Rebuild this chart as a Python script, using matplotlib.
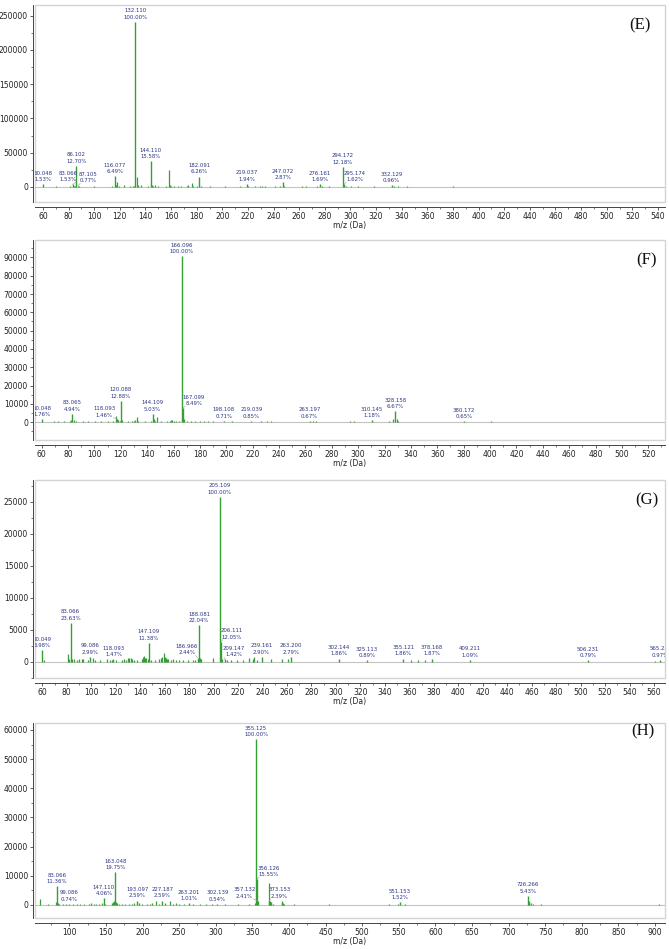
import matplotlib.pyplot as plt
from matplotlib.ticker import MultipleLocator, ScalarFormatter


plt.rcParams['font.family'] = 'DejaVu Sans'

PEAK = '#34a034'
LABEL = '#2c3584'
AXIS = '#444444'
BOX = '#d4d4d4'
W, H = 669, 949

# ---- (E) ----
e_base = 241000
e_lab_mz = [60.048, 83.066, 86.102, 87.105, 116.077, 132.110, 144.110, 182.091,
            219.037, 247.072, 276.161, 294.172, 295.174, 332.129]
e_lab_pct = [1.53, 1.53, 12.70, 0.77, 6.49, 100.00, 15.58, 6.26,
             1.94, 2.87, 1.69, 12.18, 1.62, 0.96]
e_mz = [62.0, 70.1, 72.1, 74.1, 81.1, 84.1, 85.1, 88.1, 91.1, 95.1, 100.1, 102.1, 104.1,
        110.1, 114.1, 117.1, 118.1, 119.1, 123.1, 128.1, 130.1, 131.1, 133.1, 134.1, 136.1,
        142.1, 145.1, 146.1, 147.1, 150.1, 156.1, 158.1, 159.1, 160.1, 162.1, 165.1, 168.1,
        172.1, 173.1, 176.1, 177.1, 180.1, 183.1, 190.1, 196.1, 202.1, 210.1, 214.1, 220.0,
        225.1, 229.1, 231.1, 233.1, 241.1, 245.1, 248.1, 255.1, 262.1, 265.1, 270.1, 274.1,
        278.1, 283.1, 288.1, 296.2, 300.1, 306.1, 312.1, 318.1, 325.1, 334.1, 337.1, 344.1,
        360.1, 380.1, 395.1, 400.1]
e_int = [500, 900, 600, 500, 1000, 1500, 800, 700, 500, 600, 900, 600, 500,
         500, 1200, 2200, 7000, 1200, 3500, 900, 1500, 1800, 14000, 2500, 3000,
         1500, 3000, 1500, 2500, 800, 1000, 24400, 2500, 1500, 900, 800, 700,
         1200, 2500, 5500, 1000, 1500, 1500, 700, 600, 700, 600, 800, 900,
         800, 1200, 1500, 900, 700, 800, 1200, 600, 700, 900, 600, 900,
         1000, 700, 600, 900, 800, 700, 600, 700, 600, 900, 1200, 1000,
         500, 700, 500, 600]

# ---- (F) ----
f_base = 90500
f_lab_mz = [60.048, 83.065, 118.093, 120.088, 144.109, 166.096, 167.099, 198.108,
            219.039, 263.197, 310.145, 328.158, 380.172]
f_lab_pct = [1.76, 4.94, 1.46, 12.88, 5.03, 100.00, 8.49, 0.71,
             0.85, 0.67, 1.18, 6.67, 0.65]
f_mz = [63.0, 69.1, 72.1, 77.1, 81.1, 82.1, 84.1, 86.1, 91.1, 95.1, 100.1, 105.1, 110.1,
        114.1, 116.1, 117.1, 119.1, 121.1, 125.1, 128.1, 130.1, 131.1, 132.1, 133.1, 138.1,
        143.1, 145.1, 146.1, 147.1, 150.1, 155.1, 157.1, 158.1, 159.1, 160.1, 162.1, 164.1,
        168.1, 170.1, 173.1, 176.1, 180.1, 183.1, 186.1, 190.1, 204.1, 210.1, 226.1, 231.1,
        234.1, 241.1, 251.1, 266.1, 268.1, 280.1, 294.1, 297.1, 300.1, 323.1, 326.1, 329.1,
        330.1, 346.1, 366.1, 385.1, 401.1, 530.0]
f_int = [300, 400, 500, 400, 800, 1000, 1100, 600, 500, 400, 500, 400, 400,
         600, 3500, 1500, 900, 1200, 500, 600, 700, 1000, 2700, 500, 400,
         700, 1500, 800, 2900, 500, 400, 800, 1100, 1200, 900, 600, 700,
         2000, 500, 600, 500, 600, 500, 400, 400, 400, 300, 400, 500,
         600, 300, 300, 500, 400, 300, 500, 400, 300, 800, 1500, 1500,
         700, 300, 300, 300, 400, 300]

# ---- (G) ----
g_base = 25800
g_lab_mz = [60.049, 83.066, 99.086, 118.093, 147.109, 186.966, 188.081, 205.109,
            206.111, 209.147, 239.161, 263.200, 302.144, 325.113, 355.121, 378.168,
            409.211, 506.231, 565.232]
g_lab_pct = [6.98, 23.63, 2.99, 1.47, 11.38, 2.44, 22.04, 100.00,
             12.05, 1.42, 2.90, 2.79, 1.86, 0.89, 1.86, 1.87,
             1.09, 0.79, 0.97]
g_mz = [61.0, 81.1, 82.1, 84.1, 86.1, 88.1, 90.1, 92.1, 93.1, 97.1, 101.1, 103.1, 107.1,
        113.1, 115.1, 117.1, 120.1, 125.1, 127.1, 128.1, 130.1, 131.1, 132.1, 133.1, 135.1,
        137.1, 141.1, 142.1, 143.1, 144.1, 145.1, 146.1, 149.1, 152.1, 155.1, 157.1, 158.1,
        159.1, 160.1, 161.1, 162.1, 163.1, 165.1, 167.1, 169.1, 172.1, 175.1, 179.1, 183.1,
        185.1, 187.1, 189.1, 190.1, 199.1, 207.1, 211.1, 214.1, 219.1, 224.1, 229.1, 232.1,
        233.1, 235.1, 247.1, 256.1, 261.1, 361.1, 367.1, 373.1, 561.2]
g_int = [300, 1200, 400, 400, 350, 300, 450, 500, 400, 300, 600, 250, 200,
         400, 300, 300, 300, 300, 350, 300, 650, 550, 600, 500, 250,
         200, 500, 700, 900, 600, 600, 500, 300, 250, 400, 550, 800,
         1400, 700, 600, 450, 500, 300, 450, 250, 250, 200, 300, 300,
         250, 500, 650, 500, 600, 450, 300, 200, 200, 250, 650, 500,
         700, 250, 350, 450, 350, 200, 250, 200, 180]

# ---- (H) ----
h_base = 56800
h_lab_mz = [83.066, 99.086, 147.110, 163.048, 193.097, 227.187, 263.201, 302.139,
            355.125, 356.126, 357.132, 373.153, 551.153, 726.266]
h_lab_pct = [11.36, 0.74, 4.06, 19.75, 2.59, 2.59, 1.01, 0.54,
             100.00, 15.55, 2.41, 2.39, 1.52, 5.43]
h_mz = [60.05, 71.1, 82.1, 84.1, 86.1, 91.1, 95.1, 105.1, 110.1, 115.1, 120.1, 127.1, 130.1,
        133.1, 136.1, 140.1, 145.1, 149.1, 158.1, 160.1, 161.1, 164.1, 165.1, 168.1, 172.1,
        176.1, 181.1, 185.1, 188.1, 195.1, 199.1, 206.1, 210.1, 213.1, 218.1, 222.1, 231.1,
        238.1, 241.1, 245.1, 250.1, 256.1, 269.1, 278.1, 286.1, 295.1, 312.1, 330.1, 345.1,
        354.1, 372.1, 374.1, 375.1, 376.1, 378.1, 390.1, 391.1, 392.1, 393.1, 407.1, 454.1,
        537.1, 549.1, 559.1, 727.3, 728.3, 730.3, 733.3, 744.3, 905.0]
h_int = [2200, 300, 1000, 700, 400, 300, 250, 300, 250, 350, 300, 400, 600,
         500, 400, 300, 700, 500, 700, 1000, 1200, 900, 700, 500, 400,
         400, 300, 500, 600, 700, 400, 400, 500, 700, 1300, 500, 600,
         1400, 500, 600, 400, 300, 300, 300, 300, 250, 250, 300, 400,
         800, 7700, 1300, 1000, 800, 400, 1500, 900, 800, 500, 400, 400,
         400, 500, 450, 1500, 900, 600, 500, 350, 300]


def panel(fig, box, tag, tag_pos, base, lab_mz, lab_pct, mz, inten,
          xlim, ylim, xmaj, xmin, ymaj, ymin, shifts):
    left, top, right, bottom = box
    ax = fig.add_axes([left / W, 1 - bottom / H, (right - left) / W, (bottom - top) / H])
    ax.set_xlim(xlim)
    ax.set_ylim(ylim)

    ax.axhline(0, color='#c4c4c4', lw=0.8, zorder=1)
    ax.vlines(mz, 0, inten, color=PEAK, lw=0.9, zorder=2)
    heights = [base * p / 100 for p in lab_pct]
    ax.vlines(lab_mz, 0, heights, color=PEAK, lw=1.0, zorder=3)

    for m, p, h in zip(lab_mz, lab_pct, heights):
        dx = shifts.get(m, 0)
        kw = {}
        if dx:
            kw['arrowprops'] = dict(arrowstyle='-', color='#9a9a9a', lw=0.4,
                                    shrinkA=0, shrinkB=0,
                                    relpos=(0.1, 0) if dx > 0 else (0.9, 0))
        t = ax.annotate(f'{m:.3f}\n{p:.2f}%', xy=(m, h), xytext=(dx, 1.6),
                        textcoords='offset points', ha='center', va='bottom',
                        fontsize=3.9, color=LABEL, linespacing=1.35,
                        annotation_clip=False, **kw)
        t.set_clip_on(True)
        t.set_clip_box(ax.bbox)

    ax.text(tag_pos[0], tag_pos[1], tag, transform=ax.transAxes, ha='center', va='center',
            fontsize=12, family='Liberation Serif', color='#111111')

    ax.xaxis.set_major_locator(MultipleLocator(xmaj))
    ax.xaxis.set_minor_locator(MultipleLocator(xmin))
    ax.yaxis.set_major_locator(MultipleLocator(ymaj))
    ax.yaxis.set_minor_locator(MultipleLocator(ymin))
    fmt = ScalarFormatter(useOffset=False)
    fmt.set_scientific(False)
    ax.yaxis.set_major_formatter(fmt)

    for s in ['top', 'right']:
        ax.spines[s].set_visible(False)
    ax.spines['left'].set_position(('outward', 1.5))
    ax.spines['bottom'].set_position(('outward', 3.5))
    for s in ['left', 'bottom']:
        ax.spines[s].set_color(AXIS)
        ax.spines[s].set_linewidth(0.7)
    ax.add_patch(plt.Rectangle((0, 0), 1, 1, transform=ax.transAxes, fill=False,
                               ec=BOX, lw=1.0, clip_on=False, zorder=0))

    ax.tick_params(which='major', labelsize=5.5, length=2.5, width=0.6, color=AXIS,
                   labelcolor='#222222', pad=1)
    ax.tick_params(which='minor', length=1.5, width=0.5, color=AXIS)
    ax.set_xlabel('m/z (Da)', fontsize=5.5, color='#222222', labelpad=0.5)
    return ax


fig = plt.figure(figsize=(W / 100, H / 100), dpi=100)

panel(fig, (35, 5, 665, 202), '(E)', (0.960, 0.898), e_base, e_lab_mz, e_lab_pct,
      e_mz, e_int, (53.75, 545.5), (-21930, 265640), 20, 10, 50000, 25000,
      {83.066: -3.2, 87.105: 7.2, 295.174: 7.7})
panel(fig, (35, 240, 665, 440), '(F)', (0.971, 0.90), f_base, f_lab_mz, f_lab_pct,
      f_mz, f_int, (54.9, 532.7), (-9710, 99500), 20, 10, 10000, 5000,
      {118.093: -10, 167.099: 8})
panel(fig, (35, 480, 665, 678), '(G)', (0.971, 0.899), g_base, g_lab_mz, g_lab_pct,
      g_mz, g_int, (54.0, 569.0), (-2550, 28440), 20, 10, 5000, 2500,
      {186.966: -8, 206.111: 7.7, 209.147: 6.5})
panel(fig, (35, 723, 665, 918), '(H)', (0.965, 0.955), h_base, h_lab_mz, h_lab_pct,
      h_mz, h_int, (53.1, 913.7), (-4460, 62400), 50, 25, 10000, 5000,
      {356.126: 8.3, 357.132: -9.4, 373.153: 7.2})

fig.savefig('out.png', dpi=100)
